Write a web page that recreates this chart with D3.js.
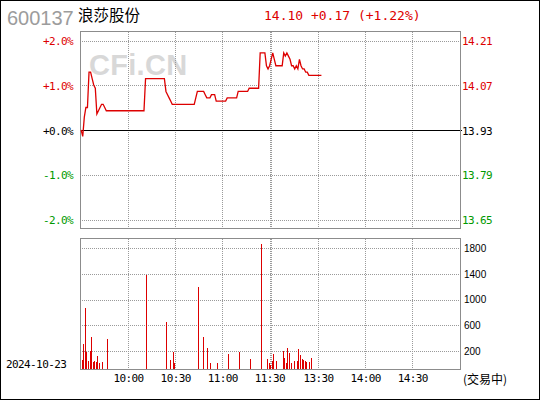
<!DOCTYPE html>
<html><head><meta charset="utf-8">
<script src="https://cdn.jsdelivr.net/npm/d3@7"></script>
<style>body{margin:0;background:#fff}svg{display:block}</style>
</head><body><svg id="c" width="540" height="400"></svg>
<script>
// ---------------- data ----------------
const stockCode = "600137";
const stockName = "浪莎股份";
const prevClose = 13.93;
const headerQuote = "14.10 +0.17 (+1.22%)";
const dateLabel = "2024-10-23";
const statusLabel = "(交易中)";
const watermark = "CFi.CN";
// minute index: 0 = 9:30 ... 120 = 11:30, 121 = 13:00 ... 241 = 15:00
const gridIdx = [30, 60, 90, 120, 121, 151, 181, 211];
const timeTickIdx = [30, 60, 90, 120, 151, 181, 211];
const timeTickLabels = ["10:00", "10:30", "11:00", "11:30", "13:30", "14:00", "14:30"];
const pctTicks = [2, 1, 0, -1, -2];
const pctTickLabels = ["+2.0%", "+1.0%", "+0.0%", "-1.0%", "-2.0%"];
const priceTickLabels = ["14.21", "14.07", "13.93", "13.79", "13.65"];
const volTicks = [200, 600, 1000, 1400, 1800];
const volTickLabels = ["200", "600", "1000", "1400", "1800"];

const prices = [
  13.93, 13.91, 13.97, 14.00, 14.00, 14.11, 14.11, 14.09, 14.07, 14.06,
  13.98, 13.99, 14.00, 14.01, 14.01, 14.00, 13.99, 13.99, 13.99, 13.99,
  13.99, 13.99, 13.99, 13.99, 13.99, 13.99, 13.99, 13.99, 13.99, 13.99,
  13.99, 13.99, 13.99, 13.99, 13.99, 13.99, 13.99, 13.99, 13.99, 13.99,
  13.99, 14.09, 14.09, 14.09, 14.09, 14.09, 14.09, 14.09, 14.09, 14.09,
  14.09, 14.09, 14.09, 14.09, 14.05, 14.04, 14.03, 14.02, 14.01, 14.01,
  14.01, 14.01, 14.01, 14.01, 14.01, 14.01, 14.01, 14.01, 14.01, 14.01,
  14.01, 14.01, 14.01, 14.03, 14.05, 14.05, 14.05, 14.05, 14.05, 14.04,
  14.03, 14.03, 14.03, 14.04, 14.04, 14.04, 14.02, 14.02, 14.02, 14.02,
  14.02, 14.02, 14.02, 14.03, 14.03, 14.03, 14.03, 14.03, 14.03, 14.03,
  14.05, 14.05, 14.05, 14.05, 14.05, 14.05, 14.05, 14.06, 14.06, 14.06,
  14.06, 14.06, 14.06, 14.06, 14.17, 14.17, 14.17, 14.17, 14.13, 14.12,
  14.13, 14.15, 14.17, 14.15, 14.13, 14.13, 14.13, 14.13, 14.13, 14.17,
  14.16, 14.17, 14.16, 14.15, 14.13, 14.13, 14.12, 14.13, 14.12, 14.15,
  14.13, 14.12, 14.12, 14.11, 14.11, 14.10, 14.10, 14.10, 14.10, 14.10,
  14.10, 14.10, 14.10, 14.10
];

const volIdx = [0, 1, 2, 3, 4, 5, 6, 7, 8, 9, 10, 11, 13, 16, 41, 54, 56, 58, 59, 74,
  77, 80, 82, 86, 93, 100, 107, 114, 118, 119, 120, 121, 122, 124, 128, 129, 130, 131, 132, 133,
  135, 137, 138, 139, 140, 141, 142, 143, 145, 146];
const volumes = [100, 309, 870, 189, 89, 205, 418, 78, 89, 78, 144, 67, 78, 387, 1384, 652, 100, 189, 67, 1197,
  418, 247, 67, 67, 167, 189, 111, 1867, 111, 67, 44, 89, 167, 89, 200, 122, 67, 247, 178, 67,
  89, 89, 232, 155, 111, 100, 89, 78, 78, 122];

// ---------------- drawing ----------------
const RED = "#dd0000", GREEN = "#009900", GRID = "#9a9a9a", FRAME = "#8c8c8c";
const MONO = "'DejaVu Sans Mono', monospace";
const svg = d3.select("#c");

const P = {left: 80, right: 460, top: 31.5, bottom: 228.5};
const V = {top: 238.5, bottom: 369};

const x = d3.scaleLinear().domain([-1, 241]).range([79.6, 459.6]);
const y = d3.scaleLinear().domain([-2, 2]).range([219.5, 40.5]);
const yVol = d3.scaleLinear().domain([0, 200, 1800]).range([V.bottom, 351, 248.3]);
const pct = p => (p / prevClose - 1) * 100;
const crisp = v => Math.round(v) + 0.5;

svg.append("rect").attr("x", 0).attr("y", 0).attr("width", 540).attr("height", 400).attr("fill", "#fff");
svg.append("rect").attr("x", 0.5).attr("y", 0.5).attr("width", 539).attr("height", 399)
  .attr("fill", "none").attr("stroke", "#000");

// header
svg.append("text").attr("x", 7).attr("y", 25).text(stockCode)
  .attr("font-family", "'Liberation Sans', Arial, sans-serif").attr("font-size", 20).attr("fill", "#9c9c9c");
svg.append("text").attr("x", 78).attr("y", 21).text(stockName)
  .attr("font-family", "'Noto Sans CJK SC', sans-serif").attr("font-size", 15.5).attr("fill", "#000");
svg.append("text").attr("x", 264).attr("y", 20).text(headerQuote)
  .attr("font-family", MONO).attr("font-size", 13).attr("fill", RED).attr("xml:space", "preserve");

// watermark
svg.append("text").attr("x", 89).attr("y", 74.5).text(watermark)
  .attr("font-family", "'Liberation Sans', Arial, sans-serif").attr("font-weight", "bold")
  .attr("font-size", 29).attr("letter-spacing", 0.3).attr("fill", "#d8d8d8");

const g = svg.append("g").attr("shape-rendering", "crispEdges");

// vertical grid (both panels)
gridIdx.forEach(i => {
  [[P.top, P.bottom], [V.top, V.bottom]].forEach(([a, b]) => {
    g.append("line").attr("x1", crisp(x(i))).attr("x2", crisp(x(i)))
      .attr("y1", a).attr("y2", b).attr("stroke", GRID).attr("stroke-dasharray", "1,1");
  });
});
// horizontal grid, top panel
pctTicks.forEach(t => {
  if (t === 0) return;
  g.append("line").attr("x1", P.left).attr("x2", P.right).attr("y1", crisp(y(t))).attr("y2", crisp(y(t)))
    .attr("stroke", GRID).attr("stroke-dasharray", "1,1");
});
// horizontal grid, volume panel
volTicks.forEach(t => {
  g.append("line").attr("x1", P.left).attr("x2", P.right).attr("y1", crisp(yVol(t))).attr("y2", crisp(yVol(t)))
    .attr("stroke", GRID).attr("stroke-dasharray", "1,1");
});

// volume bars
volIdx.forEach((i, k) => {
  const top = yVol(volumes[k]);
  g.append("rect").attr("x", Math.ceil(x(i))).attr("width", 1)
    .attr("y", Math.round(top)).attr("height", V.bottom - Math.round(top)).attr("fill", RED);
});

// zero line
g.append("line").attr("x1", P.left).attr("x2", P.right + 2).attr("y1", crisp(y(0))).attr("y2", crisp(y(0)))
  .attr("stroke", "#000").attr("stroke-width", 1);

// frames
g.append("rect").attr("x", P.left + 0.5).attr("y", P.top).attr("width", P.right - P.left).attr("height", P.bottom - P.top)
  .attr("fill", "none").attr("stroke", FRAME);
g.append("rect").attr("x", P.left + 0.5).attr("y", V.top).attr("width", P.right - P.left).attr("height", V.bottom + 0.5 - V.top)
  .attr("fill", "none").attr("stroke", FRAME);

// price line
const line = d3.line().x((d, i) => x(i)).y(d => y(pct(d)));
svg.append("path").datum(prices).attr("d", line).attr("fill", "none")
  .attr("stroke", RED).attr("stroke-width", 1.3).attr("stroke-linejoin", "miter");

// axis labels
const colorFor = t => t > 0 ? RED : (t < 0 ? GREEN : "#000");
pctTicks.forEach((t, k) => {
  svg.append("text").attr("x", 73).attr("y", y(t) + 4.5).attr("text-anchor", "end").text(pctTickLabels[k])
    .attr("font-family", MONO).attr("font-size", 11).attr("letter-spacing", -0.6).attr("fill", colorFor(t));
  svg.append("text").attr("x", 462).attr("y", y(t) + 4.5).text(priceTickLabels[k])
    .attr("font-family", MONO).attr("font-size", 11).attr("letter-spacing", -0.6).attr("fill", colorFor(t));
});
volTicks.forEach((t, k) => {
  svg.append("text").attr("x", 464).attr("y", yVol(t) + 3.8).text(volTickLabels[k])
    .attr("font-family", "'Liberation Sans', Arial, sans-serif").attr("font-size", 10).attr("fill", "#000");
});
timeTickIdx.forEach((i, k) => {
  svg.append("text").attr("x", x(i) + 0.3).attr("y", 382).attr("text-anchor", "middle").text(timeTickLabels[k])
    .attr("font-family", MONO).attr("font-size", 11).attr("letter-spacing", -0.6).attr("fill", "#000");
});
svg.append("text").attr("x", 6).attr("y", 368).text(dateLabel)
  .attr("font-family", MONO).attr("font-size", 11).attr("letter-spacing", -0.6).attr("fill", "#000");
svg.append("text").attr("x", 463).attr("y", 384).text(statusLabel)
  .attr("font-family", "'Noto Sans CJK SC', sans-serif").attr("font-size", 12).attr("fill", "#000");
</script></body></html>
